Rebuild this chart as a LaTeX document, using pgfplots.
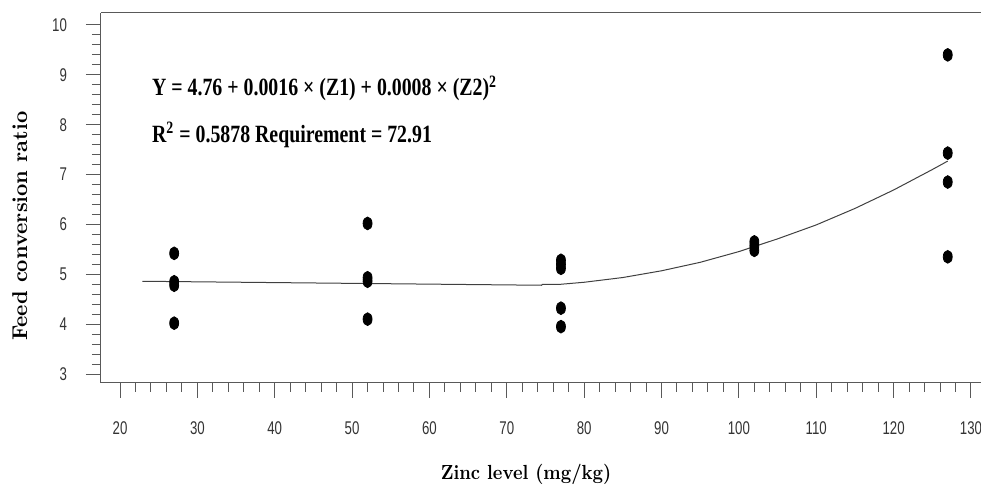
\documentclass[border=0pt]{standalone}
\usepackage{pgfplots}
\pgfplotsset{compat=1.18}
\usepackage{fontspec}
\setmainfont{Liberation Serif}
\newfontfamily\ticfont[FakeStretch=0.72]{Liberation Sans}
\newfontfamily\eqfont[FakeStretch=0.8]{Liberation Serif}
\newfontfamily\lmfont{Latin Modern Roman}
\newfontfamily\lmxfont[FakeStretch=0.89]{Latin Modern Roman}

\begin{document}
\begin{tikzpicture}
\useasboundingbox (-50.5pt,-51pt) rectangle (440pt,191.5pt);
\begin{axis}[
 scale only axis, width=440pt, height=185pt,
 xmin=17.54, xmax=131.3, ymin=2.82, ymax=10.24,
 axis x line*=box, axis y line*=left,
 axis line style={black!65, line width=0.5pt},
 xtick={20,30,...,130}, ytick={3,4,...,10},
 minor x tick num=4, minor y tick num=4,
 tick align=outside, tick pos=left,
 major tick length=7.5pt, minor tick length=4.5pt,
 tick style={black!65, line width=0.5pt},
 ticklabel style={font=\ticfont\fontsize{9.2}{9.2}\selectfont, text=black!80},
 xticklabel style={yshift=-8.4pt},
 yticklabel style={xshift=-6pt},
 /pgf/number format/assume math mode=true,
 xlabel={Zinc level (mg/kg)},
 xlabel style={at={(axis description cs:0.483,-0.262)}, anchor=base, font=\lmxfont\bfseries\fontsize{10.2}{10.2}\selectfont},
 ylabel={Feed conversion ratio},
 ylabel style={at={(axis description cs:-0.084,0.424)}, anchor=base, font=\lmfont\bfseries\fontsize{10.7}{10.7}\selectfont},
 clip=false,
]
\addplot[black!75, line width=0.5pt] coordinates {
 (22.9,4.86) (74.5,4.78) (74.6,4.80) (77,4.80) (80,4.84) (85,4.935) (90,5.07) (95,5.24)
 (100,5.455) (105,5.71) (110,5.99) (115,6.32) (120,6.69) (125,7.10) (127,7.27)
};
\addplot[only marks, mark=*, mark size=3.2pt, mark options={xscale=0.7, fill=black, draw=black}] coordinates {
 (27,5.42) (27,4.85) (27,4.78) (27,4.02)
 (52,6.02) (52,4.93) (52,4.86) (52,4.10)
 (77,5.28) (77,5.20) (77,5.12) (77,4.32) (77,3.95)
 (102,5.65) (102,5.57) (102,5.48)
 (127,9.40) (127,7.43) (127,6.85) (127,5.35)
};
\node[anchor=base west, inner sep=0pt, font=\eqfont\bfseries\fontsize{12.4}{12.4}\selectfont] at (axis cs:24.1,8.578) {Y = 4.76 + 0.0016 × (Z1) + 0.0008 × (Z2)\textsuperscript{2}};
\node[anchor=base west, inner sep=0pt, font=\eqfont\bfseries\fontsize{12.4}{12.4}\selectfont] at (axis cs:24.1,7.64) {R\textsuperscript{2} = 0.5878 Requirement = 72.91};
\end{axis}
\end{tikzpicture}
\end{document}
